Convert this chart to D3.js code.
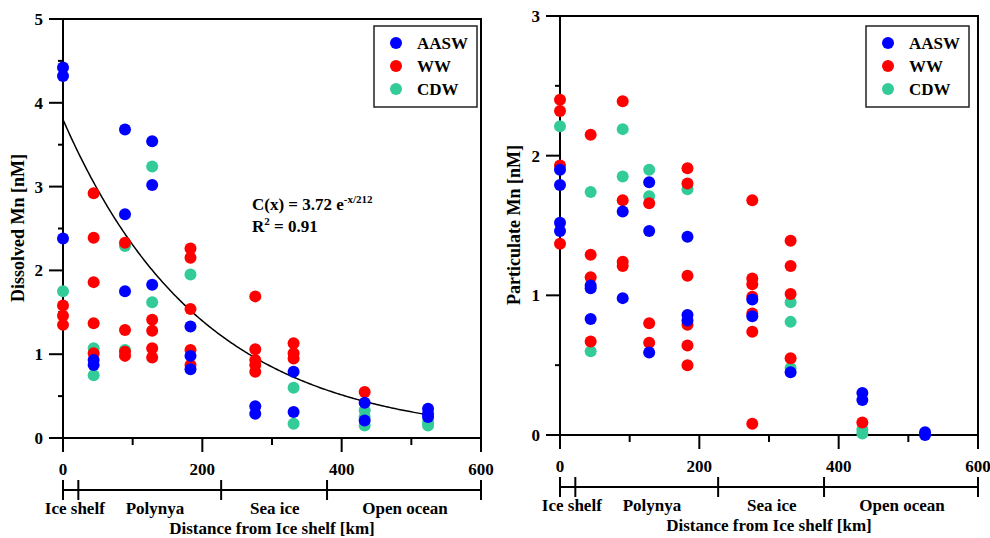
<!DOCTYPE html>
<html><head><meta charset="utf-8">
<script src="https://cdn.jsdelivr.net/npm/d3@7"></script>
<style>body{margin:0;background:#fff}svg{display:block}text{font-family:"Liberation Serif","Times New Roman",serif;font-weight:bold;fill:#000}</style>
</head><body><svg id="c" width="990" height="538"></svg>
<script>
// ---- data ----
const seriesNames = ["AASW", "WW", "CDW"];
const seriesColors = ["#0000ff", "#ff0000", "#33cc99"];
const xTicks = [0, 200, 400, 600];
const regionBounds = [0, 22, 227, 379, 600];
const regionLabels = ["Ice shelf", "Polynya", "Sea ice", "Open ocean"];
const regionLabelPos = [17, 132, 304, 491];

const dissolvedAASW = [[0,4.42],[0,4.32],[0,2.38],[44,0.93],[44,0.87],[89,3.68],[89,2.67],[89,1.75],[128,3.54],[128,3.02],[128,1.83],[183,1.33],[183,0.98],[183,0.82],[276,0.38],[276,0.29],[331,0.79],[331,0.31],[433,0.42],[433,0.21],[524,0.35],[524,0.29],[524,0.25]];
const dissolvedWW = [[0,1.58],[0,1.46],[0,1.35],[44,2.92],[44,2.39],[44,1.86],[44,1.37],[44,1.01],[89,2.33],[89,1.29],[89,1.03],[89,0.98],[128,1.41],[128,1.28],[128,1.07],[128,0.96],[183,2.26],[183,2.15],[183,1.54],[183,1.05],[183,0.87],[276,1.69],[276,1.06],[276,0.93],[276,0.87],[276,0.79],[331,1.13],[331,1.01],[331,0.95],[433,0.55]];
const dissolvedCDW = [[0,1.75],[44,1.07],[44,0.75],[89,2.29],[89,1.05],[128,3.24],[128,1.62],[183,1.95],[331,0.60],[331,0.17],[433,0.33],[433,0.25],[433,0.15],[524,0.19],[524,0.15]];

const particulateAASW = [[0,1.90],[0,1.79],[0,1.52],[0,1.46],[44,1.07],[44,1.05],[44,0.83],[90,1.60],[90,0.98],[128,1.81],[128,1.46],[128,0.59],[183,1.42],[183,0.86],[183,0.82],[276,0.97],[276,0.85],[331,0.45],[434,0.30],[434,0.25],[524,0.02],[524,0.0]];
const particulateWW = [[0,2.40],[0,2.32],[0,1.93],[0,1.37],[44,2.15],[44,1.29],[44,1.13],[44,0.67],[90,2.39],[90,1.68],[90,1.24],[90,1.21],[128,1.66],[128,0.80],[128,0.66],[183,1.91],[183,1.80],[183,1.14],[183,0.79],[183,0.64],[183,0.50],[276,1.68],[276,1.12],[276,1.08],[276,0.99],[276,0.87],[276,0.74],[276,0.08],[331,1.39],[331,1.21],[331,1.01],[331,0.55],[434,0.09]];
const particulateCDW = [[0,2.21],[44,1.74],[44,0.60],[90,2.19],[90,1.85],[128,1.90],[128,1.71],[183,1.76],[331,0.95],[331,0.81],[331,0.48],[434,0.04],[434,0.01]];

// fitted curve as drawn: C(x) = A e^(-x/K)
const fitA = 3.8, fitK = 200, fitMaxX = 524;

const svg = d3.select("#c");

function panel(cfg) {
  const g = svg.append("g");
  const x = d3.scaleLinear().domain([0, 600]).range([cfg.left, cfg.right]);
  const y = d3.scaleLinear().domain([0, cfg.ymax]).range([cfg.bottom, cfg.top]);

  // minor ticks
  const yMinor = d3.range(0.5, cfg.ymax, 1);
  const xMinor = [100, 300, 500];

  const ax = g.append("g").attr("stroke", "#000").attr("stroke-width", 2).attr("fill", "none");
  // frame
  ax.append("line").attr("x1", cfg.left - 14).attr("x2", cfg.right + 1).attr("y1", cfg.top).attr("y2", cfg.top);
  ax.append("line").attr("x1", cfg.right).attr("x2", cfg.right).attr("y1", cfg.top).attr("y2", cfg.bottom);
  ax.append("line").attr("x1", cfg.left - 14).attr("x2", cfg.right + 1).attr("y1", cfg.bottom).attr("y2", cfg.bottom);
  ax.append("line").attr("x1", cfg.left).attr("x2", cfg.left).attr("y1", cfg.top).attr("y2", cfg.bottom);

  // y ticks
  const yMaj = d3.range(0, cfg.ymax + 1, 1);
  yMaj.forEach(v => ax.append("line").attr("x1", cfg.left - 14).attr("x2", cfg.left).attr("y1", y(v)).attr("y2", y(v)));
  yMinor.forEach(v => ax.append("line").attr("x1", cfg.left - 5).attr("x2", cfg.left).attr("y1", y(v)).attr("y2", y(v)));
  g.selectAll(".yl").data(yMaj).enter().append("text")
    .attr("x", cfg.left - 20).attr("y", d => y(d)).attr("dy", "0.35em")
    .attr("text-anchor", "end").attr("font-size", 17).text(d => d);

  // x ticks
  xTicks.forEach(v => ax.append("line").attr("x1", x(v)).attr("x2", x(v)).attr("y1", cfg.bottom).attr("y2", cfg.bottom + 14));
  xMinor.forEach(v => ax.append("line").attr("x1", x(v)).attr("x2", x(v)).attr("y1", cfg.bottom).attr("y2", cfg.bottom + 7));
  g.selectAll(".xl").data(xTicks).enter().append("text")
    .attr("x", d => x(d)).attr("y", cfg.bottom + 37)
    .attr("text-anchor", "middle").attr("font-size", 17).text(d => d);

  // region bar
  const ry = cfg.bottom + 52;
  ax.append("line").attr("x1", x(0)).attr("x2", x(600)).attr("y1", ry).attr("y2", ry);
  regionBounds.forEach(v => ax.append("line").attr("x1", x(v)).attr("x2", x(v)).attr("y1", ry - 10).attr("y2", ry + 10));
  g.selectAll(".rl").data(regionLabels).enter().append("text")
    .attr("x", (d, i) => x(regionLabelPos[i])).attr("y", ry + 24)
    .attr("text-anchor", "middle").attr("font-size", 17).text(d => d);

  // axis titles
  g.append("text").attr("x", (cfg.left + cfg.right) / 2).attr("y", cfg.bottom + 96)
    .attr("text-anchor", "middle").attr("font-size", 17).text("Distance from Ice shelf [km]");
  g.append("text").attr("transform", `translate(${cfg.ytitleX},${cfg.ytitleY}) rotate(-90)`)
    .attr("text-anchor", "middle").attr("font-size", 18).text(cfg.ytitle);

  // fit curve
  if (cfg.fit) {
    const pts = d3.range(0, fitMaxX + 1, 2).map(d => [d, fitA * Math.exp(-d / fitK)]);
    g.append("path").datum(pts).attr("fill", "none").attr("stroke", "#000").attr("stroke-width", 1.5)
      .attr("d", d3.line().x(d => x(d[0])).y(d => y(d[1])));
  }

  // points: CDW, WW, AASW draw order
  [2, 1, 0].forEach(i => {
    g.append("g").selectAll("circle").data(cfg.series[i]).enter().append("circle")
      .attr("cx", d => x(d[0])).attr("cy", d => y(d[1])).attr("r", 6)
      .attr("fill", seriesColors[i]);
  });

  // legend
  const lg = g.append("g");
  lg.append("rect").attr("x", cfg.lgX).attr("y", cfg.lgY).attr("width", 103).attr("height", 81)
    .attr("fill", "#fff").attr("stroke", "#222").attr("stroke-width", 1.5);
  seriesNames.forEach((n, i) => {
    lg.append("circle").attr("cx", cfg.lgX + 22).attr("cy", cfg.lgY + 17 + i * 23).attr("r", 6).attr("fill", seriesColors[i]);
    lg.append("text").attr("x", cfg.lgX + 43).attr("y", cfg.lgY + 17 + i * 23).attr("dy", "0.35em")
      .attr("font-size", 17).text(n);
  });
  return {x, y, g};
}

const p1 = panel({left: 63, right: 481, top: 19, bottom: 438, ymax: 5, fit: true,
  series: [dissolvedAASW, dissolvedWW, dissolvedCDW],
  ytitle: "Dissolved Mn [nM]", ytitleX: 24, ytitleY: 228, lgX: 374, lgY: 26});
const p2 = panel({left: 560, right: 978, top: 16, bottom: 435, ymax: 3, fit: false,
  series: [particulateAASW, particulateWW, particulateCDW],
  ytitle: "Particulate Mn [nM]", ytitleX: 520, ytitleY: 225, lgX: 866, lgY: 26});

// equation
const eq = svg.append("text").attr("x", 252).attr("y", 210).attr("font-size", 17);
eq.append("tspan").text("C(x) = 3.72 e");
eq.append("tspan").attr("font-size", 11).attr("dy", -7).text("-x/212");
const r2 = svg.append("text").attr("x", 252).attr("y", 232).attr("font-size", 17);
r2.append("tspan").text("R");
r2.append("tspan").attr("font-size", 11).attr("dy", -7).text("2");
r2.append("tspan").attr("dy", 7).text(" = 0.91");
</script></body></html>
